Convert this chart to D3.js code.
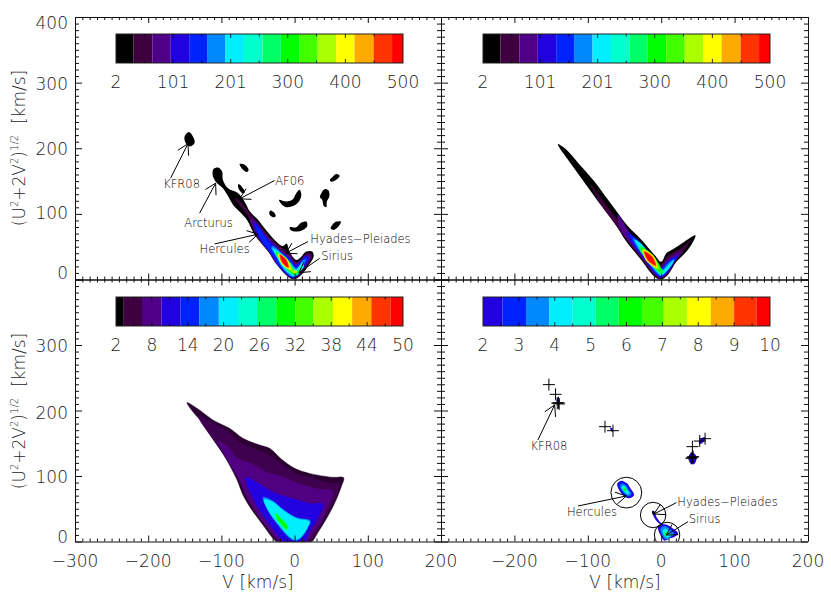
<!DOCTYPE html>
<html><head><meta charset="utf-8">
<script src="https://cdnjs.cloudflare.com/ajax/libs/d3/7.8.5/d3.min.js"></script>
<style>
html,body{margin:0;padding:0;background:#fff}
svg{display:block}
text{font-family:"DejaVu Sans",sans-serif;font-weight:200;fill:#1c1c1c}
</style></head><body>
<script>
const vMajor=[-300,-200,-100,0,100,200];
const wMajor=[0,100,200,300,400];
const vLabelsLeft=[-300,-200,-100,0,100,200];
const vLabelsRight=[-200,-100,0,100,200];
const wLabelsTop=[0,100,200,300,400];
const wNudgeTop=[-6.5,-1,1,1,6];
const wLabelsBottom=[0,100,200,300];
const wNudgeBottom=[-4.5,1,2,1];

const bandColors=["#000000","#3f003f","#500088","#2200e0","#0022ff","#0088ff","#00eeff","#00ffcc","#00ff66","#00ff00","#44ff00","#aaff00","#ffff00","#ffaa00","#ff3300","#ff0000"];
const edgesHigh=[32,65,97,129,160,192,224,256,288,320,352,384,416,449,481,500];
const ticksHigh=[2,101,201,300,400,500];
const edgesMid=[3.3,6.35,9.6,12.8,15.95,19.2,22.4,25.6,28.8,32,35,38.3,41.5,44.7,47.9,50];
const ticksMid=[2,8,14,20,26,32,38,44,50];
const edgesLow=[2.54,3.2,3.85,4.5,5.14,5.78,6.43,7.04,7.7,8.35,9,9.63,10];
const ticksLow=[2,3,4,5,6,7,8,9,10];

// density contours, outermost first: [colour index, polygon of [V,W]]
const tlIslands=[
[[-144.4,224.7],[-138.9,218],[-136.6,208],[-143.4,202.7],[-148.9,208],[-150.3,218]],
[[-75.1,175.9],[-68.3,174.8],[-62.8,167.2],[-65.2,163.7],[-71.4,168.2]],
[[-76.9,145.3],[-72.4,141.7],[-67.9,132.5],[-71.4,131.6],[-76.5,138.2]],
[[-21.4,121.4],[-11.3,118.8],[-3.1,121.4],[2.3,131.6],[6.8,136.6],[9.2,129],[5.9,118.8],[-1.4,112.2],[-11.3,110.2],[-18.2,115.2]],
[[-33.2,105],[-27.3,101],[-26,95.9],[-29.6,94.9],[-34.6,100]],
[[-6.8,79.7],[2.3,79.7],[9.2,86.7],[16,88.2],[17.3,81.7],[11.3,75.6],[2.3,73],[-4.5,74.5]],
[[57,88.2],[63.3,88.2],[60.5,81.7],[53.3,75.6],[49.2,78.2],[51.5,83.2]],
[[41,137.7],[46.4,135.6],[47.4,126.4],[44.1,118.8],[43.3,110.2],[39.6,112.2],[37.8,121.4],[34.6,125.5],[36.5,131.6]],
[[57,160.6],[61.5,158],[57,151.9],[50.1,148.9],[48.2,151.9],[51.5,156]]
];
const tlStream=[
[0,[[-112,159.5],[-108,149.4],[-98,139],[-92,129],[-84,113.7],[-73,101],[-65,90.8],[-54.5,68],[-36,42.5],[-25,24.7],[-9,4.3],[0,0.3],[9,6.9],[18,19.6],[26,34.9],[24,42.5],[16,42.5],[7,32.3],[2,29.8],[-7,42.5],[-11,55],[-16,51],[-27,60],[-41,78],[-50,91],[-61,103.6],[-67,116],[-77,131.5],[-91,139],[-98,152],[-99,164.6],[-104.5,170.7],[-110.5,168.7]]],
[1,[[-82,124],[-73,110],[-61,91],[-53,68],[-35,41],[-24,22],[-8,4],[0,1],[8,8],[17,21],[24,35],[21,41],[16,40],[8,31],[2,27],[-7,40],[-17,48],[-30,60],[-42,76],[-55,93],[-64,105],[-74,119]]],
[2,[[-61,93],[-52,68],[-34,40],[-22.5,21],[-7,4],[0,2],[8,9],[16,21],[22,34],[20,38],[15,37],[8,29],[2,25],[-7,37],[-18,45],[-30,58],[-43,73],[-55,91]]],
[3,[[-56,87],[-50,65],[-32.5,39],[-21.5,20],[-6,4],[0,2],[7,10],[15,22],[20,32],[17,36],[13,34],[7,26],[2,22],[-7,34],[-18,42],[-30,54],[-42,69],[-51,85]]],
[4,[[-54,83],[-47,64],[-31,37],[-20,19],[-5,4],[0,3],[6,11],[14,23],[18,31],[15,34],[11,31],[6,23],[2,19],[-6,30],[-17,40],[-30,50],[-40,65],[-48,78]]],
[5,[[-32,48],[-25,35],[-17,18],[-5,5],[0,4],[5,12],[12,22],[15,30],[12,30],[7,22],[2,17],[-6,27],[-16,38],[-25,48],[-30,51]]],
[6,[[-30,48],[-23,32],[-15,17],[-5,7],[0,5],[5,12],[10,21],[13,26],[10,26],[6,20],[2,15],[-6,25],[-15,36],[-25,45]]],
[7,[[-28,44],[-20,40],[-12,34],[-4,22],[2,14],[7,19],[11,23],[13,21],[8,12],[2,6],[-4,8],[-13,16],[-21,29]]],
[8,[[-26,42],[-19,38],[-11,32],[-4,20],[2,12],[6,16],[8,16],[5,10],[1,7],[-4,9],[-12,17],[-20,29]]],
[9,[[-25,41],[-18,37],[-10,31],[-4,19],[1,11],[4,13],[3,9],[0,8],[-4,10],[-11,18],[-19,30]]],
[10,[[-24,40],[-16,35],[-9,29],[-4,18],[1,11],[3,10],[0,9],[-4,11],[-10,19],[-19,31]]],
[11,[[-23,39],[-15,35],[-8,27],[-3,15],[-1,12],[-5,13],[-10,20],[-20,30]]],
[12,[[-22,39],[-10,30],[-6,15],[-18,24]]],
[12,[[-1,10],[3,11],[2,14],[-1,13]]],
[13,[[-21,38.5],[-11,30],[-7,17],[-17.5,25]]],
[13,[[0,10.5],[2,11.5],[1.5,13],[0,12.5]]],
[14,[[-20,38],[-11.5,30],[-8,18],[-16.8,25.5]]],
[15,[[-19,37],[-12,30],[-9,19],[-16,26]]]
];
const trStream=[
[0,[[-140.7,206.4],[-129,197.7],[-111,174.8],[-91,149.4],[-72.5,121.4],[-59,101],[-45,80.7],[-29,62.9],[-9,37.4],[0,27],[7,40],[14,45],[25,52.7],[46.6,67.4],[41,52.7],[30,37.4],[20.7,27],[9,7],[0,0],[-9,4.3],[-29,32.3],[-47.5,57.8],[-63.4,85.8],[-86,118.8],[-109,154.5],[-127,182.4],[-138.4,200.2]]],
[1,[[-97.5,146.8],[-74.8,113.7],[-59,90.8],[-43,68],[-25,50],[-6.6,29.8],[0,23],[7,33.8],[16,41],[30,50],[40,60],[36.6,52.7],[27.5,39],[18.4,26],[8.4,8],[0,1],[-8,5],[-28,33],[-46.6,59],[-62,83],[-81.6,113.7]]],
[2,[[-59,98.5],[-42,70.5],[-22.5,47.6],[-5.7,27.2],[0,19.6],[8,29.8],[18.4,38.4],[27.5,43.5],[27.5,40],[18.4,28],[8.4,9.4],[0,1.8],[-7.5,6.4],[-27.5,34.4],[-45,59.3],[-56.6,78]]],
[3,[[-46.6,74],[-38.4,65.4],[-20,46],[-4.3,24.7],[0,18],[8,27.2],[18.4,34.9],[25,39],[20,29.8],[8.4,10.4],[0,2.8],[-7,7.4],[-25.7,33.8],[-40.7,56.2]]],
[4,[[-43,68],[-36,64.4],[-19.3,44],[-3.9,23],[0,16],[8.4,25.7],[17,32.3],[21.6,33.8],[17.5,28.2],[8,11.5],[0,3.8],[-6.6,8.4],[-24.8,34.9],[-36,52.7]]],
[5,[[-38.4,62.9],[-31.6,57.8],[-18,41.5],[-3,20.6],[1,14.5],[9.3,24.7],[17.5,30.8],[17,27.2],[7,12],[0,5.3],[-5.7,9.4],[-24,35.9],[-34,51]]],
[6,[[-36,60.3],[-29,56.2],[-16.6,40],[-2,18.6],[1.6,13.5],[10,22],[17.5,29.8],[15.2,23.7],[7,12.5],[0.7,6.4],[-4.8,10.4],[-22.5,37.4],[-32.5,52.7]]],
[7,[[-31.6,52.7],[-25.7,50],[-13.4,35.9],[-2,17],[2.5,12],[6,13.5],[0.7,7.9],[-4.3,12],[-20.2,33],[-29.3,47.6]]],
[8,[[-29,51],[-22,47],[-11,34],[-2,19],[3,13.5],[0.2,8.4],[-5,12],[-18,30],[-29,44]]],
[9,[[-27.5,48.5],[-20,45.5],[-8,32],[0.2,15],[-1,12],[-6,15],[-15,27],[-26,40]]],
[10,[[-26,47],[-18,43],[-8,31],[-1,16],[-4,14],[-13,24],[-24,39]]],
[11,[[-25.5,46],[-10,36],[-5,16.5],[-20.5,28.5]]],
[12,[[-25,45],[-11,35.5],[-6,18],[-20,29]]],
[13,[[-24,44],[-11.5,35],[-6.5,19],[-19.5,29.5]]],
[14,[[-23,43],[-12,34.5],[-7,21],[-19,30]]],
[15,[[-22,42],[-13,33.5],[-8,22],[-18,30.5]]]
];
const blFill=["#2c0032","#3f0050","#500080","#2200e0","#0088ff","#00eeff","#00ff70","#00ff00"];
const blFan=[
[0,[[-147,212],[-130,200.8],[-111.6,185.5],[-88.8,172.8],[-70.6,157.5],[-47.8,147.3],[-34,142.2],[-18.2,126],[0,111.7],[20.5,104],[52.4,98],[67,97.5],[63.8,83.7],[52.4,53.2],[34,17.5],[18,-6],[-18,-6],[-43.3,25.2],[-68.3,65.9],[-79.7,96.4],[-98,134.6],[-120.7,175.3],[-139,198]]],
[1,[[-132,191.6],[-111.6,180.4],[-91,167.7],[-72.9,149.9],[-50,139.7],[-34,132],[-16,116.8],[2.3,104],[25,96.4],[52.4,88.8],[61.5,88.8],[57,68.4],[43.3,40.5],[29.6,12.5],[16,-6],[-16,-6],[-41,25.2],[-65,63.4],[-77.4,96.4],[-95.6,129.5],[-116,162.6]]],
[2,[[-103.4,152.4],[-91,144.8],[-77.4,127],[-59,119.3],[-38.7,106.6],[-16,99],[4.6,88.8],[29.6,81.2],[52.4,76],[47.8,58.3],[36.4,30.3],[25,12.5],[14,-6],[-12,-6],[-38.7,22.6],[-61.5,60.8],[-77.4,96.4],[-93.4,127]]],
[3,[[-67,99],[-52.4,91.3],[-29.6,76],[-2.3,65.9],[20.5,58.3],[38.7,57.3],[31.9,35.4],[20.5,15],[10,-6],[-8,-6],[-34,25.2],[-57,65.9]]],
[4,[[-43.3,67.4],[-29.6,62.3],[-16,49.6],[2.3,36.9],[21.4,31.8],[19,22.6],[10,6.4],[1.4,0.8],[-7.7,5.9],[-26,29.3],[-37.3,48]]],
[5,[[-41.9,64.4],[-29.6,60.8],[-16,48],[2.3,35.4],[20.5,30.3],[18.2,22.6],[9,7.4],[1.4,2.3],[-6.8,7.4],[-25,30.3],[-36.4,48]]],
[6,[[-26.9,44],[-17.8,35.4],[-8.2,22.6],[-10.5,17],[-18.2,25.2],[-26,35.4]]],
[7,[[-25,41.5],[-18.2,33.8],[-9.6,22],[-11.4,19],[-17.8,26],[-24,35.4]]]
];
const brBlobs=[
[3,[[-59.8,88.8],[-54.3,92.9],[-46.6,88.8],[-42,81.2],[-37,71],[-43.9,65.9],[-52,71],[-58,79.6]]],
[4,[[-58,87],[-54,90.5],[-47.5,87],[-43.5,80],[-39,72],[-44.5,67.5],[-51,72.5],[-56.5,80]]],
[5,[[-56,85],[-53,88],[-48,85],[-45,79],[-41,73],[-45,69.5],[-50.5,74],[-55,81]]],
[6,[[-54,83.5],[-51.5,85.5],[-48,83],[-45.5,78],[-43,74],[-46,72],[-50,76],[-53,80]]],
[7,[[-53,81],[-50,84],[-47.5,80],[-46,76],[-48,75],[-51,78]]],
[9,[[-51,81],[-49,82],[-47.5,78],[-49,77],[-51,79]]],
[3,[[-12.5,46.6],[-8.9,45.5],[-6.6,37.9],[-2,30.3],[3.9,25.2],[-1.1,26.2],[-7.5,32.8],[-11.1,40.5]]],
[0,[[-12,46],[-9,45],[-10,41],[-12,42]]],
[3,[[-4.3,22.6],[4.8,26.2],[16,20],[23,12.5],[18.4,7.4],[11.6,4.8],[4.8,1.3],[0.2,7.4]]],
[5,[[-1,20],[5,23.5],[13,18],[18,11],[13,7],[6,3],[2,8]]],
[6,[[2,17],[6,20],[11,15],[13,10],[8,5.5],[4,9]]],
[8,[[4,14],[7,15],[8,10],[6,7.5],[4.5,10]]],
[9,[[5,12],[6.5,13],[7,10],[6,8.5]]],
[3,[[42.5,136],[47,132],[48,124.4],[44.3,117.8],[39.8,119.3],[37,126.9],[38.9,133.5]]],
[3,[[51.1,152.4],[56.1,158.5],[60.7,158.5],[58,152.4],[53,148.9]]],
[3,[[-142,218.6],[-139.3,218.6],[-138.4,211],[-141.6,209.4]]],
[3,[[-69.3,173.8],[-66.6,172.8],[-65.7,167.7],[-68.4,168.7]]]
];
const brCrosses=[[-153,239.5],[-143.9,224.7],[-141.6,211],[-140,212],[-139,210],[-76.6,175.3],[-65.7,169.2],[42.5,144.8],[52.5,153.4],[59.8,157],[42.5,128.5],[41,127],[43.5,129.5]];
const brCircles=[[-47.5,74.6,21],[-11,40.5,17.3],[8,10,17.3]];

// annotations: label, arrow start [V,W], arrow tip [V,W], label anchor [V,W], text-anchor
const tlNotes=[
["KFR08",[-169.4,154.5],[-145.7,206.9],[-154.4,145.8],"middle"],
["Arcturus",[-129.8,101],[-107.9,146.8],[-117.5,85.8],"middle"],
["AF06",[-27.3,150.9],[-75.1,122.9],[-26.5,151],"start"],
["Hercules",[-109.3,54.2],[-50,69],[-95.6,46],"middle"],
["Hyades\u2212Pleiades",[18.2,57.8],[-12.3,40],[21.4,61.3],"start"],
["Sirius",[34.2,32.3],[5.9,10.4],[36.4,35.9],"start"]
];
const brNotes=[
["KFR08",[-168,155],[-145.2,208.4],[-153,145.8],"middle"],
["Hercules",[-113.4,54.2],[-47.5,69.5],[-94.3,45.5],"middle"],
["Hyades\u2212Pleiades",[20.7,59.3],[-9.8,42],[22,60.3],"start"],
["Sirius",[36.6,30.3],[7,9.9],[37.5,34.9],"start"]
];

const W=831,H=595;
const svg=d3.select("body").append("svg").attr("width",W).attr("height",H).attr("viewBox",[0,0,W,H]);
const xRange={left:[75,441],right:[441,808]};
const yRange={top:[279.5,17],bottom:[541.5,279.5]};
const range5=(a,b,s)=>d3.range(a,b+0.001,s);
let clipN=0;

function panel(xr,yr){
  const x=d3.scaleLinear([-300,200],xr), y=d3.scaleLinear([0,400],yr);
  const id="clip"+(clipN++);
  svg.append("clipPath").attr("id",id).append("rect")
    .attr("x",xr[0]).attr("y",yr[1]).attr("width",xr[1]-xr[0]).attr("height",yr[0]-yr[1]);
  const g=svg.append("g").attr("clip-path",`url(#${id})`);
  const over=svg.append("g");
  const line=d3.line().x(d=>x(d[0])).y(d=>y(d[1])).curve(d3.curveCatmullRomClosed.alpha(0.5));
  return {x,y,g,over,line,xr,yr};
}
function frame(p){
  const {x,y,xr,yr}=p;
  const mk=(axis,sc,tx,ty,major,minorStep,lenMaj,lenMin)=>{
    const minor=range5(sc.domain()[0],sc.domain()[1],minorStep).filter(v=>!major.includes(v));
    const a=svg.append("g").attr("transform",`translate(${tx},${ty})`);
    const st=g=>g.selectAll("path,line").attr("stroke","#111").attr("stroke-width",1);
    a.append("g").call(axis(sc).tickValues(major).tickSize(-lenMaj).tickFormat("")).call(st);
    a.append("g").call(axis(sc).tickValues(minor).tickSize(-lenMin).tickFormat("")).call(st);
    a.selectAll(".domain").attr("d",null);
    a.select("g").call(g=>g.append("path").attr("fill","none").attr("stroke","#111")
      .attr("d",(axis===d3.axisBottom||axis===d3.axisTop)?`M${xr[0]},0.5H${xr[1]}`:`M0.5,${yr[1]}V${yr[0]}`));
  };
  mk(d3.axisBottom,x,0,yr[0],vMajor,10,6,3);
  mk(d3.axisTop,x,0,yr[1],vMajor,10,6,3);
  mk(d3.axisLeft,y,xr[0],0,wMajor,10,7,4);
  mk(d3.axisRight,y,xr[1],0,wMajor,10,7,4);
}
function fill(p,polys,palette){
  p.g.selectAll(null).data(polys).join("path")
    .attr("d",d=>p.line(d[1])).attr("fill",d=>palette[d[0]]);
}
function notes(p,list){
  const {x,y,over}=p;
  const barb=12, ang=Math.PI/6;
  list.forEach(([label,from,to,at,anchor])=>{
    const x0=x(from[0]),y0=y(from[1]),x1=x(to[0]),y1=y(to[1]);
    const t=Math.atan2(y0-y1,x0-x1);
    const d=`M${x0},${y0}L${x1},${y1}M${x1+barb*Math.cos(t+ang)},${y1+barb*Math.sin(t+ang)}L${x1},${y1}L${x1+barb*Math.cos(t-ang)},${y1+barb*Math.sin(t-ang)}`;
    over.append("path").attr("d",d).attr("fill","none").attr("stroke","#000").attr("stroke-width",1);
    over.append("text").attr("x",x(at[0])).attr("y",y(at[1])).attr("dy","0.36em")
      .attr("text-anchor",anchor).attr("font-size",11.5).style("fill","#000").text(label);
  });
}
function colorbar(xr,yTop,lo,hi,edges,colors,ticks){
  const c=d3.scaleLinear([lo,hi],xr), barH=29;
  const g=svg.append("g");
  const starts=[lo].concat(edges.slice(0,-1));
  g.selectAll(null).data(edges).join("rect")
    .attr("x",(d,i)=>c(starts[i])).attr("y",yTop)
    .attr("width",(d,i)=>c(d)-c(starts[i])).attr("height",barH).attr("fill",(d,i)=>colors[i]);
  g.append("rect").attr("x",xr[0]).attr("y",yTop).attr("width",xr[1]-xr[0]).attr("height",barH)
    .attr("fill","none").attr("stroke","#222").attr("stroke-width",1);
  const mids=d3.pairs(ticks).map(([a,b])=>(a+b)/2);
  const tk=(vals,len)=>{
    g.selectAll(null).data(vals).join("path").attr("fill","none").attr("stroke","#000").attr("stroke-width",0.8)
      .attr("d",v=>`M${c(v)},${yTop}v${len}M${c(v)},${yTop+barH}v${-len}`);
  };
  tk(ticks.slice(1,-1),4); tk(mids,2.5);
  g.selectAll(null).data(ticks).join("text").attr("x",v=>c(v)).attr("y",yTop+48).attr("dy","0.36em")
    .attr("text-anchor","middle").attr("font-size",17).text(v=>v);
}
function yLabel(cy){
  const t=svg.append("text").attr("transform",`translate(25,${cy}) rotate(-90)`)
    .attr("text-anchor","middle").attr("font-size",17);
  const parts=[["(U",0],["2",1],["+2V",0],["2",1],[")",0],["1/2",1],["\u00a0\u00a0[km/s]",0]];
  parts.forEach(([s,up],i)=>{
    const prev=i?parts[i-1][1]:0;
    t.append("tspan").attr("dy",(prev-up)*7).attr("font-size",up?10:17).text(s);
  });
}
function xLabels(p,vals){
  svg.append("g").selectAll("text").data(vals).join("text").attr("x",v=>p.x(v)).attr("y",561).attr("dy","0.36em")
    .attr("text-anchor","middle").attr("font-size",17).text(v=>v<0?"\u2212"+(-v):v);
}
function yLabels(p,vals,nudge){
  svg.append("g").selectAll("text").data(vals).join("text").attr("x",p.xr[0]-7).attr("y",(v,i)=>p.y(v)+nudge[i]).attr("dy","0.36em")
    .attr("text-anchor","end").attr("font-size",17).text(v=>v);
}

const tl=panel(xRange.left,yRange.top), tr=panel(xRange.right,yRange.top),
      bl=panel(xRange.left,yRange.bottom), br=panel(xRange.right,yRange.bottom);

tl.g.selectAll(null).data(tlIslands).join("path").attr("d",tl.line).attr("fill","#000");
fill(tl,tlStream,bandColors);
notes(tl,tlNotes);

fill(tr,trStream,bandColors);

fill(bl,blFan,blFill);
bl.g.select("path").attr("stroke","#140016").attr("stroke-width",0.4);

fill(br,brBlobs,bandColors);
br.g.selectAll(null).data(brCircles).join("circle")
  .attr("cx",d=>br.x(d[0])).attr("cy",d=>br.y(d[1])).attr("r",d=>br.x(d[2])-br.x(0))
  .attr("fill","none").attr("stroke","#000").attr("stroke-width",1);
br.g.selectAll(null).data(brCrosses).join("path")
  .attr("d",d=>`M${br.x(d[0])-6},${br.y(d[1])}h12M${br.x(d[0])},${br.y(d[1])-6}v12`)
  .attr("fill","none").attr("stroke","#000").attr("stroke-width",1);
notes(br,brNotes);

[tl,tr,bl,br].forEach(frame);

colorbar([116,403],34,2,500,edgesHigh,bandColors,ticksHigh);
colorbar([483,770],34,2,500,edgesHigh,bandColors,ticksHigh);
colorbar([116,403],297,2,50,edgesMid,bandColors,ticksMid);
colorbar([483,770],297,2,10,edgesLow,bandColors.slice(3),ticksLow);

yLabels(tl,wLabelsTop,wNudgeTop);
yLabels(bl,wLabelsBottom,wNudgeBottom);
xLabels(bl,vLabelsLeft);
xLabels(br,vLabelsRight);
yLabel(148); yLabel(411);
[258,625].forEach(cx=>svg.append("text").attr("x",cx).attr("y",582).attr("dy","0.36em")
  .attr("text-anchor","middle").attr("font-size",17).text("V [km/s]"));
</script>
</body></html>
